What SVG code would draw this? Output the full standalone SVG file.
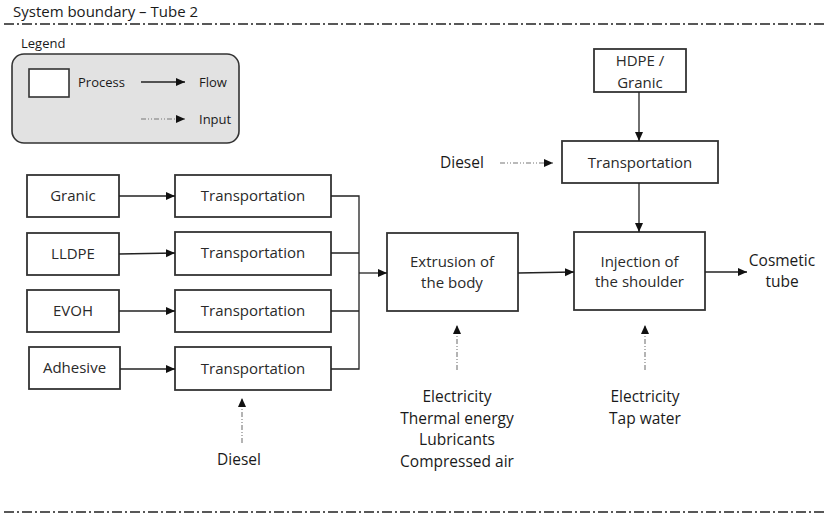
<svg xmlns="http://www.w3.org/2000/svg" width="827" height="514" viewBox="0 0 827 514">
<defs>
<marker id="ah" markerUnits="userSpaceOnUse" markerWidth="10" markerHeight="9" refX="9" refY="4" orient="auto">
<path d="M0,0 L9,4 L0,8 z" fill="#111"/>
</marker>
<style>
text{font-family:"Open Sans","Liberation Sans",sans-serif;fill:#1a1a1a;font-size:15px}
.bx{fill:#fff;stroke:#333;stroke-width:1.8}
.bt{text-anchor:middle;fill:#2a2a2a}
.c{text-anchor:middle;font-size:15.5px}
.lb{font-size:15.5px}
.lg{font-size:13px}
.fl{fill:none;stroke:#222;stroke-width:1.3}
.in{fill:none;stroke:#777;stroke-width:1.1;stroke-dasharray:5,2,1,2,1,2}
.bd{fill:none;stroke:#222;stroke-width:1.6;stroke-dasharray:10,3,2,3}
</style>
</defs>
<rect width="827" height="514" fill="#fff"/>
<g id="boundary">
<text x="13" y="17" font-size="15">System boundary – Tube 2</text>
<line class="bd" x1="4" y1="24" x2="827" y2="24"/>
<line class="bd" x1="4" y1="512" x2="827" y2="512"/>
</g>
<g id="legend">
<text class="lg" x="21" y="48">Legend</text>
<rect x="12" y="54" width="227" height="89" rx="12" fill="#e2e2e2" stroke="#333" stroke-width="1.6"/>
<rect x="29" y="69" width="40" height="28" fill="#fff" stroke="#333" stroke-width="1.6"/>
<text class="lg" x="78" y="87">Process</text>
<line class="fl" x1="141" y1="82" x2="185" y2="82" marker-end="url(#ah)"/>
<text class="lg" x="199" y="87">Flow</text>
<line class="in" x1="141" y1="119" x2="185" y2="119" marker-end="url(#ah)"/>
<text class="lg" x="199" y="124">Input</text>
</g>
<g id="granic"><rect class="bx" x="27" y="175" width="92" height="42"/><text class="bt" x="73" y="201">Granic</text></g>
<g id="lldpe"><rect class="bx" x="27" y="233" width="92" height="42"/><text class="bt" x="73" y="259">LLDPE</text></g>
<g id="evoh"><rect class="bx" x="27" y="290" width="92" height="42"/><text class="bt" x="73" y="316">EVOH</text></g>
<g id="adhesive"><rect class="bx" x="29" y="347" width="91" height="42"/><text class="bt" x="74.5" y="373">Adhesive</text></g>
<g id="transport1"><rect class="bx" x="175" y="175" width="156" height="42"/><text class="bt" x="253" y="201">Transportation</text></g>
<g id="transport2"><rect class="bx" x="175" y="232" width="156" height="43"/><text class="bt" x="253" y="258">Transportation</text></g>
<g id="transport3"><rect class="bx" x="175" y="290" width="156" height="42"/><text class="bt" x="253" y="316">Transportation</text></g>
<g id="transport4"><rect class="bx" x="175" y="347" width="156" height="43"/><text class="bt" x="253" y="374">Transportation</text></g>
<g id="extrusion"><rect class="bx" x="387" y="233" width="131" height="78"/><text class="bt" x="452" y="267">Extrusion of</text><text class="bt" x="452" y="288">the body</text></g>
<g id="injection"><rect class="bx" x="574" y="232" width="131" height="78"/><text class="bt" x="639.5" y="267">Injection of</text><text class="bt" x="639.5" y="287">the shoulder</text></g>
<g id="hdpe"><rect class="bx" x="594" y="49" width="92" height="43"/><text class="bt" x="640" y="66">HDPE /</text><text class="bt" x="640" y="88">Granic</text></g>
<g id="transport5"><rect class="bx" x="562" y="141" width="156" height="42"/><text class="bt" x="640" y="168">Transportation</text></g>
<g id="labels">
<text class="lb" x="440" y="168">Diesel</text>
<text class="c" x="239" y="465">Diesel</text>
<text class="c" x="457" y="402">Electricity</text>
<text class="c" x="457" y="424">Thermal energy</text>
<text class="c" x="457" y="445">Lubricants</text>
<text class="c" x="457" y="467">Compressed air</text>
<text class="c" x="645" y="402">Electricity</text>
<text class="c" x="645" y="424">Tap water</text>
<text class="c" x="782" y="266">Cosmetic</text>
<text class="c" x="782" y="287">tube</text>
</g>
<g id="connectors">
<line class="fl" x1="119" y1="196" x2="175" y2="196" marker-end="url(#ah)"/>
<line class="fl" x1="119" y1="254" x2="175" y2="253" marker-end="url(#ah)"/>
<line class="fl" x1="119" y1="311" x2="175" y2="311" marker-end="url(#ah)"/>
<line class="fl" x1="120" y1="369" x2="175" y2="369" marker-end="url(#ah)"/>
<path class="fl" d="M331,196 H359 V369 H331 M331,253 H359 M331,311 H359"/>
<line class="fl" x1="359" y1="273" x2="387" y2="273" marker-end="url(#ah)"/>
<line class="fl" x1="518" y1="273" x2="574" y2="272" marker-end="url(#ah)"/>
<line class="fl" x1="705" y1="272" x2="747" y2="272" marker-end="url(#ah)"/>
<line class="fl" x1="639" y1="92" x2="639" y2="141" marker-end="url(#ah)"/>
<line class="fl" x1="639" y1="183" x2="639" y2="232" marker-end="url(#ah)"/>
<line class="in" x1="500" y1="163" x2="553" y2="163" marker-end="url(#ah)"/>
<line class="in" x1="242" y1="443" x2="242" y2="398" marker-end="url(#ah)"/>
<line class="in" x1="457" y1="370" x2="457" y2="325" marker-end="url(#ah)"/>
<line class="in" x1="645" y1="370" x2="645" y2="325" marker-end="url(#ah)"/>
</g>
</svg>
